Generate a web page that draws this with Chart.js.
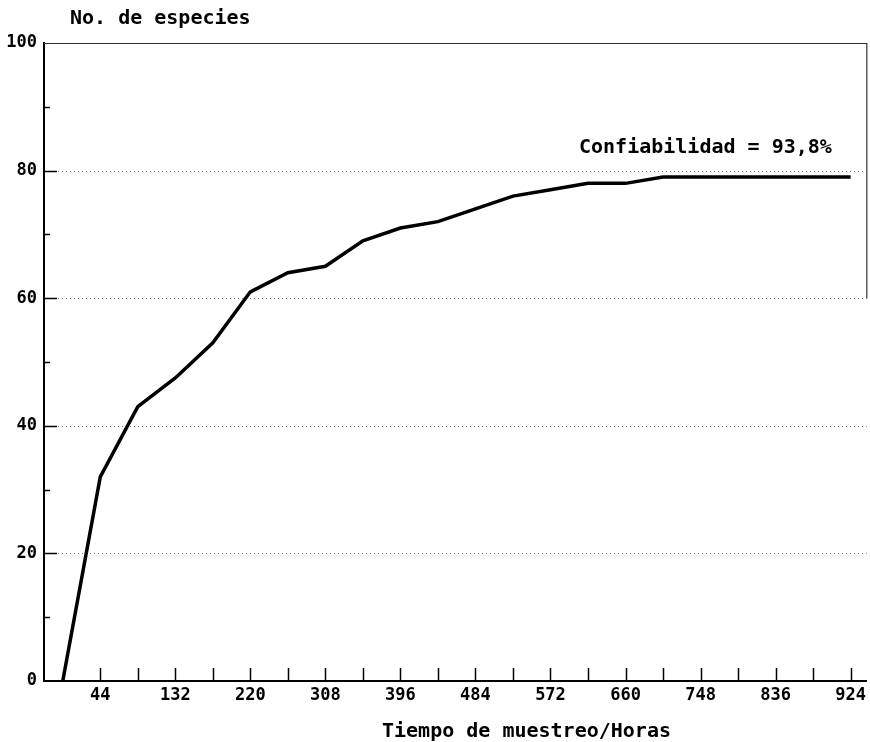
<!DOCTYPE html>
<html>
<head>
<meta charset="utf-8">
<script src="https://cdn.jsdelivr.net/npm/chart.js@4"></script>
<style>
  body { margin: 0; background: #fff; }
  canvas { display: block; }
</style>
</head>
<body>
<canvas id="curva" width="870" height="742"></canvas>
<script>
// sampling times (hours) and accumulated species count
const horas = [0, 44, 88, 132, 176, 220, 264, 308, 352, 396, 440, 484, 528, 572, 616, 660, 704, 748, 792, 836, 880, 924];
const especies = [0, 32, 43, 47.5, 53, 61, 64, 65, 69, 71, 72, 74, 76, 77, 78, 78, 79, 79, 79, 79, 79, 79];

const xTickMarks = [44, 88, 132, 176, 220, 264, 308, 352, 396, 440, 484, 528, 572, 616, 660, 704, 748, 792, 836, 880, 924];
const xTickLabels = [44, 132, 220, 308, 396, 484, 572, 660, 748, 836, 924];
const yTickLabels = [0, 20, 40, 60, 80, 100];
const gridValues = [20, 40, 60, 80];

const yLabel = "No. de especies";
const xLabel = "Tiempo de muestreo/Horas";
const nota = "Confiabilidad = 93,8%";

const FONT = "'DejaVu Sans Mono', 'Liberation Mono', monospace";

// frame, inner tick marks, dotted grid and the texts
const frame = {
  id: "frame",
  beforeDatasetsDraw(chart) {
    const { ctx, chartArea: a, scales: { x, y } } = chart;
    ctx.save();
    // dotted grid
    ctx.strokeStyle = "#777";
    ctx.lineWidth = 1;
    ctx.setLineDash([1, 3]);
    gridValues.forEach(v => {
      const py = Math.round(y.getPixelForValue(v)) + 0.5;
      ctx.beginPath();
      ctx.moveTo(a.left + 14, py);
      ctx.lineTo(a.right, py);
      ctx.stroke();
    });
    ctx.setLineDash([]);
    // top and right border
    ctx.strokeStyle = "#333";
    ctx.lineWidth = 1.2;
    ctx.beginPath();
    ctx.moveTo(a.left, a.top + 0.5);
    ctx.lineTo(a.right, a.top + 0.5);
    ctx.lineTo(a.right, y.getPixelForValue(60));
    ctx.stroke();
    // x ticks pointing up
    ctx.strokeStyle = "#000";
    ctx.lineWidth = 1.5;
    xTickMarks.forEach(v => {
      const px = Math.round(x.getPixelForValue(v)) + 0.5;
      ctx.beginPath();
      ctx.moveTo(px, a.bottom);
      ctx.lineTo(px, a.bottom - 13);
      ctx.stroke();
    });
    // y ticks pointing right
    for (let v = 10; v < 100; v += 10) {
      const py = Math.round(y.getPixelForValue(v)) + 0.5;
      const len = v % 20 === 0 ? 13 : 6;
      ctx.beginPath();
      ctx.moveTo(a.left, py);
      ctx.lineTo(a.left + len, py);
      ctx.stroke();
    }
    ctx.restore();
  },
  afterDraw(chart) {
    const { ctx } = chart;
    ctx.save();
    ctx.fillStyle = "#000";
    ctx.font = "bold 20px " + FONT;
    ctx.textBaseline = "middle";
    ctx.textAlign = "left";
    ctx.fillText(yLabel, 70, 19);
    ctx.fillText(nota, 579, 148);
    ctx.fillText(xLabel, 382, 732);
    ctx.restore();
  }
};

new Chart(document.getElementById("curva"), {
  type: "line",
  data: {
    datasets: [{
      data: horas.map((h, i) => ({ x: h, y: especies[i] })),
      borderColor: "#000",
      borderWidth: 3.5,
      pointRadius: 0,
      tension: 0,
      fill: false
    }]
  },
  options: {
    responsive: false,
    animation: false,
    devicePixelRatio: 1,
    layout: { padding: { top: 43, right: 1, left: 0, bottom: 0 } },
    plugins: { legend: { display: false }, tooltip: { enabled: false } },
    scales: {
      x: {
        type: "linear",
        min: -22,
        max: 943,
        afterBuildTicks: s => { s.ticks = xTickLabels.map(v => ({ value: v })); },
        afterFit: s => { s.height = 61; },
        grid: { display: false, drawTicks: false },
        border: { display: true, color: "#000", width: 2 },
        ticks: {
          autoSkip: false,
          maxRotation: 0,
          padding: 4,
          color: "#000",
          font: { family: FONT, size: 17, weight: "bold" },
          callback: v => String(v)
        },
        title: { display: false }
      },
      y: {
        min: 0,
        max: 100,
        afterBuildTicks: s => { s.ticks = yTickLabels.map(v => ({ value: v })); },
        afterFit: s => { s.width = 44; },
        grid: { display: false, drawTicks: false },
        border: { display: true, color: "#000", width: 2 },
        ticks: {
          padding: 7,
          color: "#000",
          font: { family: FONT, size: 17, weight: "bold" }
        }
      }
    }
  },
  plugins: [frame]
});
</script>
</body>
</html>
